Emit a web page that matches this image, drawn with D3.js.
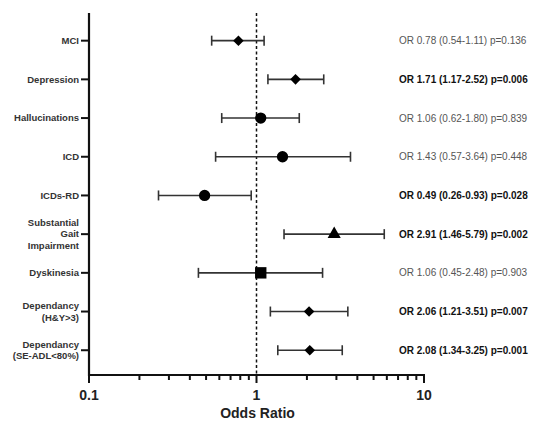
<html>
<head>
<meta charset="utf-8">
<style>
    body { margin: 0; padding: 0; background: white; font-family: "Liberation Sans", Arial, sans-serif; }
    .ylab { font-size: 9.5px; font-weight: bold; fill: #333; }
    .ann { font-size: 10px; fill: #555; }
    .ann.sig { font-weight: bold; fill: #111; }
</style>
</head>
<body>
<div id="chart"></div>
<script src="https://d3js.org/d3.v7.min.js"></script>
<script>
var categories = [
    ["MCI"],
    ["Depression"],
    ["Hallucinations"],
    ["ICD"],
    ["ICDs-RD"],
    ["Substantial", "Gait", "Impairment"],
    ["Dyskinesia"],
    ["Dependancy", "(H&Y>3)"],
    ["Dependancy", "(SE-ADL<80%)"]
];
var oddsRatio = [0.78, 1.71, 1.06, 1.43, 0.49, 2.91, 1.06, 2.06, 2.08];
var lowerCI = [0.54, 1.17, 0.62, 0.57, 0.26, 1.46, 0.45, 1.21, 1.34];
var upperCI = [1.11, 2.52, 1.80, 3.64, 0.93, 5.79, 2.48, 3.51, 3.25];
var pValues = ["0.136", "0.006", "0.839", "0.448", "0.028", "0.002", "0.903", "0.007", "0.001"];
var markers = ["diamond", "diamond", "circle", "circle", "circle", "triangle", "square", "diamond", "diamond"];
var xTicks = [0.1, 1, 10];

var width = 544, height = 435;
var svg = d3.select("#chart").append("svg")
    .attr("width", width)
    .attr("height", height);

var x = d3.scaleLog().domain([0.1, 10]).range([89, 424]);
var y = d3.scaleLinear().domain([-0.715, 8.64]).range([13, 375]);

// dashed reference line at OR = 1
svg.append("line")
    .attr("x1", x(1)).attr("x2", x(1))
    .attr("y1", y.range()[0]).attr("y2", y.range()[1])
    .attr("stroke", "#111")
    .attr("stroke-width", 1.5)
    .attr("stroke-dasharray", "3,2.5");

// x axis with minor ticks
var minor = d3.range(1, 10).map(function(d) { return d / 10; })
    .concat(d3.range(1, 10).map(function(d) { return d; })).concat([10]);
var xg = svg.append("g").attr("transform", "translate(0," + y.range()[1] + ")");
xg.selectAll("line.minor").data(minor).enter().append("line")
    .attr("x1", function(d) { return x(d); })
    .attr("x2", function(d) { return x(d); })
    .attr("y1", 0)
    .attr("y2", function(d) { return xTicks.indexOf(d) >= 0 ? 8 : 5; })
    .attr("stroke", "#111").attr("stroke-width", 2);
xg.append("line").attr("x1", x.range()[0] - 1).attr("x2", x.range()[1] + 1)
    .attr("stroke", "#111").attr("stroke-width", 2.2);
xg.selectAll("text").data(xTicks).enter().append("text")
    .attr("x", function(d) { return x(d); })
    .attr("y", 25)
    .attr("text-anchor", "middle")
    .style("font-size", "14px").style("font-weight", "bold").style("fill", "#222")
    .text(function(d) { return d; });
svg.append("text")
    .attr("x", x(1) + 1).attr("y", 418)
    .attr("text-anchor", "middle")
    .style("font-size", "14px").style("font-weight", "bold").style("fill", "#222")
    .text("Odds Ratio");

// y axis
var yg = svg.append("g");
yg.append("line").attr("x1", 89).attr("x2", 89)
    .attr("y1", y.range()[0]).attr("y2", y.range()[1] + 1)
    .attr("stroke", "#111").attr("stroke-width", 2.2);
yg.selectAll("line.tick").data(categories).enter().append("line")
    .attr("x1", 81).attr("x2", 89)
    .attr("y1", function(d, i) { return y(i); })
    .attr("y2", function(d, i) { return y(i); })
    .attr("stroke", "#111").attr("stroke-width", 2);
yg.selectAll("text").data(categories).enter().append("text")
    .attr("class", "ylab")
    .attr("text-anchor", "end")
    .attr("x", 79)
    .attr("y", function(d, i) { return y(i) - (d.length - 1) * 5.7 + 3.3; })
    .each(function(d) {
        var t = d3.select(this);
        d.forEach(function(line, j) {
            t.append("tspan").attr("x", 79).attr("dy", j === 0 ? 0 : 11.4).text(line);
        });
    });

// error bars
var rows = svg.append("g").selectAll("g").data(oddsRatio).enter().append("g");
rows.append("line")
    .attr("x1", function(d, i) { return x(lowerCI[i]); })
    .attr("x2", function(d, i) { return x(upperCI[i]); })
    .attr("y1", function(d, i) { return y(i); })
    .attr("y2", function(d, i) { return y(i); })
    .attr("stroke", "#333").attr("stroke-width", 1.6);
[lowerCI, upperCI].forEach(function(arr) {
    rows.append("line")
        .attr("x1", function(d, i) { return x(arr[i]); })
        .attr("x2", function(d, i) { return x(arr[i]); })
        .attr("y1", function(d, i) { return y(i) - 5; })
        .attr("y2", function(d, i) { return y(i) + 5; })
        .attr("stroke", "#333").attr("stroke-width", 1.6);
});

// markers
var symbols = {
    diamond: d3.symbol().type(d3.symbolSquare).size(56),
    circle: d3.symbol().type(d3.symbolCircle).size(100),
    square: d3.symbol().type(d3.symbolSquare).size(130),
    triangle: d3.symbol().type(d3.symbolTriangle).size(75)
};
rows.append("path")
    .attr("d", function(d, i) { return symbols[markers[i]](); })
    .attr("transform", function(d, i) {
        return "translate(" + x(d) + "," + y(i) + ")" + (markers[i] === "diamond" ? " rotate(45)" : "");
    })
    .attr("fill", "#000");

// annotation text
svg.append("g").selectAll("text").data(oddsRatio).enter().append("text")
    .attr("class", function(d, i) { return +pValues[i] < 0.05 ? "ann sig" : "ann"; })
    .attr("x", 399)
    .attr("y", function(d, i) { return y(i) + 3.5; })
    .text(function(d, i) {
        return "OR " + d.toFixed(2) + " (" + lowerCI[i].toFixed(2) + "-" + upperCI[i].toFixed(2) + ") p=" + pValues[i];
    });
</script>
</body>
</html>
